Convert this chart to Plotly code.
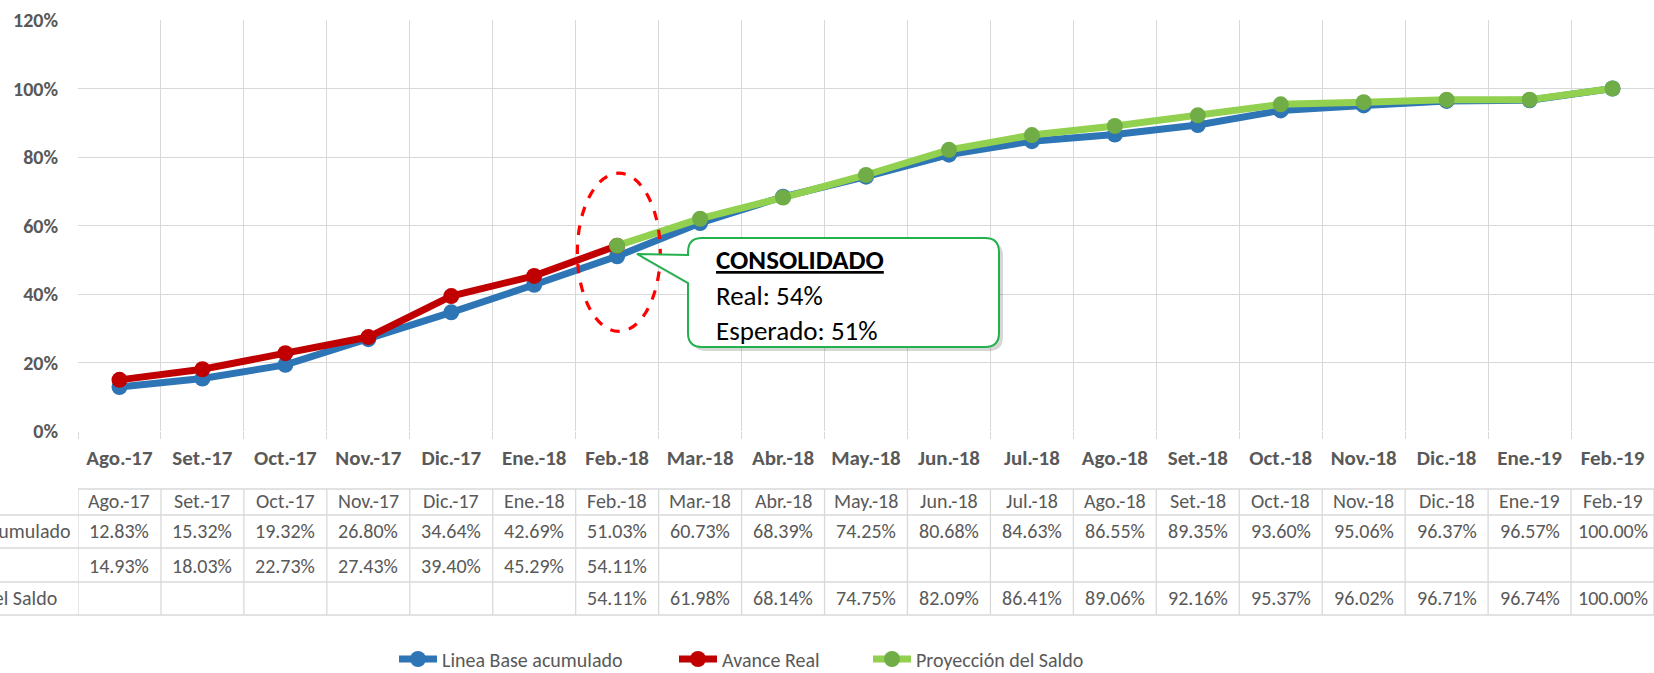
import plotly.graph_objects as go

months = ["Ago.-17", "Set.-17", "Oct.-17", "Nov.-17", "Dic.-17", "Ene.-18", "Feb.-18",
          "Mar.-18", "Abr.-18", "May.-18", "Jun.-18", "Jul.-18", "Ago.-18", "Set.-18",
          "Oct.-18", "Nov.-18", "Dic.-18", "Ene.-19", "Feb.-19"]
linea_base = [12.83, 15.32, 19.32, 26.80, 34.64, 42.69, 51.03, 60.73, 68.39, 74.25,
              80.68, 84.63, 86.55, 89.35, 93.60, 95.06, 96.37, 96.57, 100.00]
avance_real = [14.93, 18.03, 22.73, 27.43, 39.40, 45.29, 54.11,
               None, None, None, None, None, None, None, None, None, None, None, None]
proyeccion = [None, None, None, None, None, None, 54.11, 61.98, 68.14, 74.75, 82.09,
              86.41, 89.06, 92.16, 95.37, 96.02, 96.71, 96.74, 100.00]
series_names = ["Linea Base acumulado", "Avance Real", "Proyección del Saldo"]
y_ticks = [0, 20, 40, 60, 80, 100, 120]
y_tick_text = [f"{v}%" for v in y_ticks]
callout_title = "CONSOLIDADO"
callout_lines = ["Real: 54%", "Esperado: 51%"]

W, H = 1654, 673
L, R, T, B = 78, 0, 20, 242
PW, PH = W - L - R, H - T - B
FONT = "Carlito, Calibri, Lato, Roboto, sans-serif"
GREY = "#595959"
GRID = "#D9D9D9"


def xp(px):
    return (px - L) / PW


def yp(py):
    return (H - B - py) / PH


fig = go.Figure()
colors = [("#2E75B6", "#2E75B6"), ("#C00000", "#C00000"), ("#92D050", "#70AD47")]
legend_ids = ["legend", "legend2", "legend3"]
for name, vals, (lc, mc), lg in zip(series_names, [linea_base, avance_real, proyeccion],
                                    colors, legend_ids):
    fig.add_trace(go.Scatter(
        x=months, y=vals, name=name, mode="lines+markers", legend=lg,
        line=dict(color=lc, width=7), marker=dict(color=mc, size=16),
        connectgaps=False, hoverinfo="x+y"))

shapes = []
annotations = []

# ---- data table below chart ----
row_lines = [489, 515, 548, 582, 615]
row_centers = [501, 531, 566, 598]
n = len(months)
LW = 1.3
shapes.append(dict(type="line", xref="x", yref="paper", x0=-0.5, x1=n - 0.5,
                   y0=yp(row_lines[0]), y1=yp(row_lines[0]), line=dict(color=GRID, width=LW)))
for ly in row_lines[1:]:
    shapes.append(dict(type="line", xref="paper", yref="paper", x0=xp(0), x1=1.0,
                       y0=yp(ly), y1=yp(ly), line=dict(color=GRID, width=LW)))
for i in range(n + 1):
    shapes.append(dict(type="line", xref="x", yref="paper", x0=i - 0.5, x1=i - 0.5,
                       y0=yp(row_lines[0]), y1=yp(row_lines[-1]), line=dict(color=GRID, width=LW)))

tfont = dict(family=FONT, size=20, color=GREY)
for i, m in enumerate(months):
    annotations.append(dict(x=m, y=yp(row_centers[0]), xref="x", yref="paper", text=m,
                            showarrow=False, font=tfont, xanchor="center", yanchor="middle"))
    for r, vals in enumerate([linea_base, avance_real, proyeccion]):
        v = vals[i]
        if v is not None:
            annotations.append(dict(x=m, y=yp(row_centers[r + 1]), xref="x", yref="paper",
                                    text=f"{v:.2f}%", showarrow=False, font=tfont,
                                    xanchor="center", yanchor="middle"))
# row labels: left-aligned column that starts beyond the left page edge (as in the reference)
for r, name in enumerate(series_names):
    annotations.append(dict(x=xp(-112), y=yp(row_centers[r + 1]), xref="paper", yref="paper",
                            text=name, showarrow=False, font=tfont,
                            xanchor="left", yanchor="middle"))

# ---- red dashed ellipse around Feb.-18 ----
idx = months.index("Feb.-18")
yc = (linea_base[idx] + avance_real[idx]) / 2
shapes.append(dict(type="circle", xref="x", yref="y", x0=idx - 0.48, x1=idx + 0.52,
                   y0=yc - 23.5, y1=yc + 22.7, line=dict(color="#FF0000", width=3.2, dash="dash"),
                   layer="above"))


# ---- callout box ----
def callout_path(dx=0.0, dy=0.0):
    bl, br, bt, bb, rad = 688 + dx, 999 + dx, 238 + dy, 347 + dy, 14
    tip = (637 + dx, 254 + dy)
    p1, p2 = 255 + dy, 283 + dy

    def P(x, y):
        return f"{xp(x):.5f},{yp(y):.5f}"
    return (f"M {P(bl + rad, bt)} L {P(br - rad, bt)} Q {P(br, bt)} {P(br, bt + rad)} "
            f"L {P(br, bb - rad)} Q {P(br, bb)} {P(br - rad, bb)} "
            f"L {P(bl + rad, bb)} Q {P(bl, bb)} {P(bl, bb - rad)} "
            f"L {P(bl, p2)} L {P(*tip)} L {P(bl, p1)} "
            f"L {P(bl, bt + rad)} Q {P(bl, bt)} {P(bl + rad, bt)} Z")


shapes.append(dict(type="path", xref="paper", yref="paper", path=callout_path(4, 4),
                   fillcolor="rgba(0,0,0,0.16)", line=dict(width=0), layer="above"))
shapes.append(dict(type="path", xref="paper", yref="paper", path=callout_path(),
                   fillcolor="white", line=dict(color="#22B14C", width=2), layer="above"))
cfont = dict(family=FONT, size=27, color="black")
annotations.append(dict(x=xp(714), y=yp(259), xref="paper", yref="paper",
                        text=f"<b><u>{callout_title}</u></b>", showarrow=False,
                        font=cfont, xanchor="left", yanchor="middle"))
for k, t in enumerate(callout_lines):
    annotations.append(dict(x=xp(714), y=yp([295, 330][k]), xref="paper", yref="paper",
                            text=t, showarrow=False, font=cfont,
                            xanchor="left", yanchor="middle"))

lfont = dict(family=FONT, size=20, color=GREY)
legend_common = dict(orientation="h", xanchor="left", yanchor="middle", y=yp(659),
                     font=lfont, itemwidth=38, borderwidth=0, bgcolor="rgba(0,0,0,0)")
fig.update_layout(
    width=W, height=H,
    margin=dict(l=L, r=R, t=T, b=B, pad=0, autoexpand=False),
    paper_bgcolor="white", plot_bgcolor="white",
    font=dict(family=FONT, color=GREY),
    shapes=shapes, annotations=annotations,
    legend=dict(x=xp(394), **legend_common),
    legend2=dict(x=xp(674), **legend_common),
    legend3=dict(x=xp(868), **legend_common),
    showlegend=True,
)
fig.update_xaxes(type="category", categoryorder="array", categoryarray=months,
                 range=[-0.5, n - 0.5], tickson="boundaries", ticks="outside", ticklen=7,
                 tickcolor=GRID, tickwidth=LW, showgrid=True, gridcolor=GRID, gridwidth=LW,
                 showline=False, zeroline=False, automargin=False, ticklabelstandoff=12,
                 tickfont=dict(family=FONT, size=21, color=GREY, weight="bold"))
fig.update_yaxes(range=[0, 120], tickvals=y_ticks, ticktext=y_tick_text, showgrid=True,
                 gridcolor=GRID, gridwidth=LW, zeroline=False, showline=False,
                 ticklabelstandoff=19, automargin=False,
                 tickfont=dict(family=FONT, size=20, color=GREY, weight="bold"))

fig.write_html("out.html", config={"displayModeBar": False})
# remove the browser's default 8px body margin so the figure fills the window exactly
with open("out.html", encoding="utf-8") as f:
    html = f.read()
html = html.replace("<head>", "<head><style>html,body{margin:0;padding:0;overflow:hidden;}</style>", 1)
with open("out.html", "w", encoding="utf-8") as f:
    f.write(html)
